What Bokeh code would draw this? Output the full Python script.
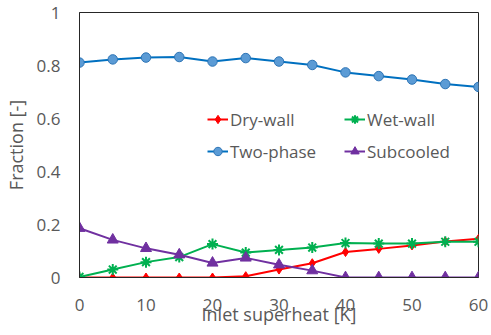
from bokeh.plotting import figure
from bokeh.models import Range1d, Legend, LegendItem, CustomJSTickFormatter, FixedTicker
from bokeh.embed import file_html
from bokeh.resources import INLINE

superheat = [0, 5, 10, 15, 20, 25, 30, 35, 40, 45, 50, 55, 60]
dry_wall = [0.0, 0.0, 0.0, 0.0, 0.0, 0.005, 0.03, 0.054, 0.096, 0.108, 0.121, 0.136, 0.146]
wet_wall = [0.002, 0.03, 0.058, 0.077, 0.126, 0.094, 0.104, 0.113, 0.13, 0.128, 0.128, 0.135, 0.135]
two_phase = [0.811, 0.823, 0.83, 0.832, 0.815, 0.828, 0.815, 0.802, 0.774, 0.76, 0.747, 0.73, 0.719]
subcooled = [0.186, 0.142, 0.11, 0.086, 0.055, 0.074, 0.048, 0.026, 0.0, 0.0, 0.0, 0.0, 0.0]
x_ticks = [0, 10, 20, 30, 40, 50, 60]
y_ticks = [0, 0.2, 0.4, 0.6, 0.8, 1.0]

FONT = "Open Sans"
GREY = "#595959"

p = figure(width=491, height=335, output_backend="svg", toolbar_location=None,
           x_range=Range1d(0, 60), y_range=Range1d(0, 1),
           min_border_left=77, min_border_right=13, min_border_top=12, min_border_bottom=58)
p.xgrid.visible = False
p.ygrid.visible = False
p.outline_line_color = "#262626"
p.outline_line_width = 1
p.background_fill_color = "white"
p.border_fill_color = "white"

p.xaxis.ticker = FixedTicker(ticks=x_ticks)
p.yaxis.ticker = FixedTicker(ticks=y_ticks)
p.yaxis.formatter = CustomJSTickFormatter(code="return Number(tick.toFixed(1)).toString();")
for ax in (p.xaxis[0], p.yaxis[0]):
    ax.major_tick_line_color = None
    ax.minor_tick_line_color = None
    ax.major_tick_out = 0
    ax.major_tick_in = 0
    ax.minor_tick_out = 0
    ax.minor_tick_in = 0
    ax.axis_line_color = "#262626"
    ax.major_label_text_font = FONT
    ax.major_label_text_font_size = "17px"
    ax.major_label_text_color = GREY
    ax.axis_label_text_font = FONT
    ax.axis_label_text_font_size = "18px"
    ax.axis_label_text_color = GREY
    ax.axis_label_text_font_style = "normal"
p.xaxis.axis_label = "Inlet superheat [K]"
p.yaxis.axis_label = "Fraction [-]"
p.xaxis.major_label_standoff = 21
p.xaxis.axis_label_standoff = -12
p.yaxis.major_label_standoff = 19
p.yaxis.axis_label_standoff = 6

l1 = p.line(superheat, dry_wall, line_color="#FF0000", line_width=2)
m1 = p.scatter(superheat, dry_wall, marker="diamond", size=9, fill_color="#FF0000", line_color="#FF0000")
l2 = p.line(superheat, wet_wall, line_color="#00B050", line_width=2)
m2 = p.scatter(superheat, wet_wall, marker="asterisk", size=11, line_color="#00B050", line_width=2)
l3 = p.line(superheat, two_phase, line_color="#0070C0", line_width=2)
m3 = p.scatter(superheat, two_phase, marker="circle", size=9.5, fill_color="#5B9BD5", line_color="#2E75B6", line_width=1)
l4 = p.line(superheat, subcooled, line_color="#7030A0", line_width=2)
m4 = p.scatter(superheat, subcooled, marker="triangle", size=11, fill_color="#7030A0", line_color="#7030A0")

legend = Legend(items=[
    LegendItem(label="Dry-wall", renderers=[l1, m1]),
    LegendItem(label="Two-phase", renderers=[l3, m3]),
    LegendItem(label="Wet-wall", renderers=[l2, m2]),
    LegendItem(label="Subcooled", renderers=[l4, m4]),
], ncols=2, location=(128, 112))
legend.background_fill_alpha = 0
legend.border_line_color = None
legend.padding = 0
legend.margin = 0
legend.spacing = 4
legend.glyph_width = 21
legend.glyph_height = 28
legend.label_height = 28
legend.label_width = 110
legend.label_standoff = 2
legend.label_text_font = FONT
legend.label_text_font_size = "17px"
legend.label_text_color = GREY
p.add_layout(legend, "center")

open("out.html", "w").write(file_html(p, INLINE))
